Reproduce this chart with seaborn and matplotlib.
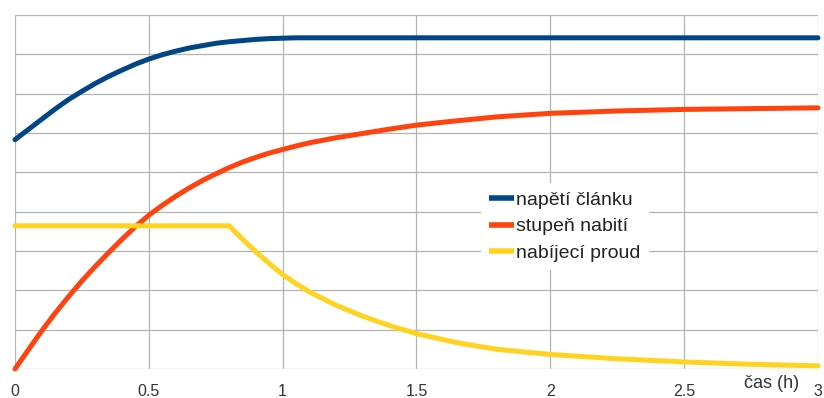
import pandas as pd
import seaborn as sns
import matplotlib.pyplot as plt

# time axis (h)
TIME = [0, 0.05, 0.1, 0.15, 0.2, 0.25, 0.3, 0.35, 0.4, 0.45, 0.5, 0.55, 0.6, 0.65,
        0.7, 0.75, 0.8, 0.85, 0.9, 0.95, 1.0, 1.05, 1.1, 1.2, 1.3, 1.4, 1.5, 1.65,
        1.8, 2.0, 2.25, 2.5, 2.75, 3.0]

NAPETI = [5.83, 6.09, 6.35, 6.61, 6.85, 7.06, 7.26, 7.44, 7.6, 7.75, 7.88, 7.99, 8.08, 8.16,
          8.22, 8.28, 8.32, 8.35, 8.38, 8.40, 8.41, 8.42, 8.42, 8.42, 8.42, 8.42, 8.42, 8.42,
          8.42, 8.42, 8.42, 8.42, 8.42, 8.42]
STUPEN = [0.0, 0.49, 0.97, 1.42, 1.84, 2.24, 2.61, 2.96, 3.3, 3.62, 3.91, 4.16, 4.39, 4.6,
          4.79, 4.96, 5.12, 5.26, 5.38, 5.49, 5.58, 5.67, 5.75, 5.88, 5.99, 6.1, 6.2, 6.31,
          6.41, 6.5, 6.56, 6.6, 6.62, 6.64]
PROUD = [3.64, 3.64, 3.64, 3.64, 3.64, 3.64, 3.64, 3.64, 3.64, 3.64, 3.64, 3.64, 3.64, 3.64,
         3.64, 3.64, 3.64, 3.3, 2.98, 2.68, 2.4, 2.17, 1.96, 1.62, 1.34, 1.1, 0.9, 0.67,
         0.5, 0.37, 0.26, 0.18, 0.12, 0.08]

SERIES = ["napětí článku", "stupeň nabití", "nabíjecí proud"]
COLORS = ["#004586", "#ff420e", "#ffd320"]
XTICKS = [0, 0.5, 1, 1.5, 2, 2.5, 3]
XTICK_LABELS = ["0", "0.5", "1", "1.5", "2", "2.5", "3"]

sns.set_theme(style="white")
plt.rcParams["font.family"] = ["Liberation Sans", "DejaVu Sans"]

df = pd.DataFrame({"t": TIME, SERIES[0]: NAPETI, SERIES[1]: STUPEN, SERIES[2]: PROUD})
long_df = df.melt(id_vars="t", value_vars=SERIES, var_name="serie", value_name="v")

fig = plt.figure(figsize=(8.24, 3.98), dpi=100)
ax = fig.add_axes([15 / 824, 29 / 398, 803 / 824, 354 / 398])

sns.lineplot(data=long_df, x="t", y="v", hue="serie", hue_order=SERIES,
             palette=COLORS, linewidth=3.6, ax=ax, clip_on=False, zorder=3)

ax.set_xlim(0, 3)
ax.set_ylim(0, 9)
ax.set_xticks(XTICKS)
ax.set_xticklabels(XTICK_LABELS)
ax.set_yticks(range(0, 10))
ax.set_yticklabels([])
ax.grid(True, color="#b3b3b3", linewidth=0.9)
ax.set_axisbelow(True)
for s in ax.spines.values():
    s.set_visible(False)
ax.tick_params(axis="x", length=0, pad=10.5, labelsize=11.5, labelcolor="#333333")
ax.tick_params(axis="y", length=0)

ax.set_xlabel("čas (h)", fontsize=13, color="#333333", ha="right", va="center")
ax.xaxis.set_label_coords(0.976, -0.042)
ax.set_ylabel("")

leg = ax.legend(loc="center", bbox_to_anchor=(0.685, 0.4025), frameon=True,
                fontsize=14, handlelength=1.25, handletextpad=0.15,
                labelspacing=0.46, borderpad=0.4, borderaxespad=0, fancybox=False)
leg.get_frame().set_facecolor("white")
leg.get_frame().set_edgecolor("none")
leg.get_frame().set_alpha(1)
for line in leg.get_lines():
    line.set_linewidth(4.0)
    line.set_solid_capstyle("butt")
for t in leg.get_texts():
    t.set_color("#222222")

fig.savefig("out.png", dpi=100)
